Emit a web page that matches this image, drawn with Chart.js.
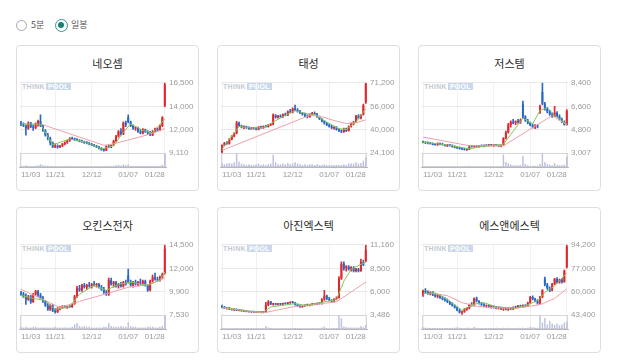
<!DOCTYPE html>
<html><head><meta charset="utf-8">
<script src="https://cdn.jsdelivr.net/npm/chart.js@4.4.1/dist/chart.umd.min.js"></script>
<style>
body{margin:0;background:#fff;width:618px;height:362px;overflow:hidden;position:relative;font-family:'Noto Sans CJK KR','Noto Sans',sans-serif}
.rb{position:absolute;box-sizing:border-box;border-radius:50%}
.rl{position:absolute;font-size:9px;color:#555;line-height:12px}
.card{position:absolute;width:183px;height:146px;border:1px solid #dedede;border-radius:4px;box-sizing:border-box;background:#fff}
.title{position:absolute;top:9px;left:0;width:100%;text-align:center;font-size:11px;color:#2a2a2a;line-height:16px}
.card canvas{position:absolute;left:1px;top:29px}
.wm{position:absolute;left:5px;top:37px;height:8px;font:bold 7px 'Liberation Sans',sans-serif;line-height:8px;letter-spacing:0.3px;white-space:nowrap}
.wm .t{color:#c3c9d0}
.wm .p{background:#c9d8ea;color:#fff;padding:0 2px;margin-left:1px}
</style></head><body>
<div class="rb" style="left:16px;top:20px;width:11px;height:11px;border:1px solid #a8a8a8"></div>
<span class="rl" style="left:31px;top:19px">5분</span>
<div class="rb" style="left:55px;top:19px;width:13px;height:13px;border:1.5px solid #2d9c8c;background:#fff"><div class="rb" style="left:2px;top:2px;width:6px;height:6px;background:#17826f"></div></div>
<span class="rl" style="left:71px;top:19px">일봉</span>
<div id="wrap"></div>
<script>
const dates=['11/03','11/04','11/05','11/06','11/07','11/10','11/11','11/12','11/13','11/14','11/17','11/18','11/19','11/20','11/21','11/24','11/25','11/26','11/27','11/28','12/01','12/02','12/03','12/04','12/05','12/08','12/09','12/10','12/11','12/12','12/15','12/16','12/17','12/18','12/19','12/22','12/23','12/24','12/26','12/29','12/30','01/02','01/05','01/06','01/07','01/08','01/09','01/12','01/13','01/14','01/15','01/16','01/19','01/20','01/21','01/22','01/23','01/26','01/27','01/28'];
const xTickLabels=['11/03','11/21','12/12','01/07','01/28'];
const names=['네오셈','태성','저스템','오킨스전자','아진엑스텍','에스앤에스텍'];

const neoAxis=['16,500','14,000','12,000','9,110'];
const neoOpen=[12300,12150,12000,11700,12300,11900,11800,12200,12500,12000,11500,11000,10700,10200,9800,9900,9750,9900,10100,10250,10450,10700,10600,10550,10450,10350,10300,10200,10150,10050,9950,9850,9750,9600,9450,9400,9850,9750,9950,10400,10900,11400,11100,12300,12900,12400,12000,11700,11800,11400,11200,11600,11350,11200,11000,11400,11700,11500,12000,14100];
const neoHigh=[12450,12300,12100,12400,12350,12100,12300,12600,13130,12100,11600,11200,10800,10300,10100,10000,9950,10150,10300,10500,10750,10800,10700,10650,10550,10500,10400,10350,10250,10150,10050,9950,9850,9700,9600,9900,9950,10000,10500,11000,11500,11700,12400,12500,13130,12500,12100,11900,11850,11600,11700,11650,11500,11400,11500,11750,11800,12100,12950,16500];
const neoLow=[12000,11900,11000,11600,11800,11500,11700,11950,11900,11400,10900,10500,10000,9700,9700,9650,9700,9800,10000,10150,10350,10550,10450,10400,10300,10250,10150,10100,10000,9900,9800,9700,9550,9400,9320,9380,9700,9700,9900,10300,10800,11000,11050,11900,12300,11900,11600,11500,11300,11150,11150,11300,11100,10950,10950,11300,11400,11450,11900,14000];
const neoClose=[12150,12000,11700,12300,11900,11800,12200,12500,12000,11500,11000,10700,10200,9800,9900,9750,9900,10100,10250,10450,10700,10600,10550,10450,10350,10300,10200,10150,10050,9950,9850,9750,9600,9450,9400,9850,9750,9950,10400,10900,11400,11100,12300,12100,12400,12000,11700,11800,11400,11200,11600,11350,11200,11000,11400,11700,11500,12000,12850,16300];
const neoVol=[3,2,4,3,2,2,3,4,6,4,3,3,2,2,2,1,1,2,2,2,3,1,1,1,1,1,1,1,1,1,1,1,1,1,2,3,2,2,3,4,5,3,6,4,6,3,2,2,2,2,2,2,2,2,2,2,2,3,5,30];
const neoShort=[[0,12200],[8,12150],[13,10000],[20,10600],[26,10300],[33,9550],[38,9900],[42,11300],[45,12200],[50,11500],[54,11250],[59,12700]];
const neoLong=[[9,12100],[34,9950],[38,10100],[52,11050],[59,11700]];

const taeAxis=['71,200','56,000','40,000','24,100'];
const taeOpen=[25000,29500,31000,30500,33500,35500,37500,44500,42500,41500,42000,41000,40500,41200,40600,40000,41800,41000,42200,41800,43200,43500,49500,48000,49200,48300,50200,49500,52000,51500,54000,53000,52000,51000,50000,49000,48300,50000,51000,50200,48500,47000,45500,44000,43000,42000,41000,41500,40000,39000,38500,40500,39000,42000,44000,45000,49000,47500,50000,58000];
const taeHigh=[29800,31500,32000,34000,36000,38000,45500,45000,43000,42500,42300,41800,41500,41500,41200,42000,42200,42500,42800,43500,44000,50500,50000,49500,49800,50500,51000,52500,53500,54500,56300,54000,52800,51500,51000,49800,50500,51500,51800,50800,49000,47500,46000,44800,43800,42800,42000,42000,40800,40000,41000,41000,42500,44500,45500,49500,50000,50000,57000,71200];
const taeLow=[24100,29000,30000,30200,33000,35000,37000,42000,41000,40500,40800,40000,40000,40300,39800,39800,40800,40800,41500,41500,42500,43000,47500,47500,48000,48000,49000,49200,51000,51000,52500,51500,50500,49500,48500,47800,48000,49500,49800,48000,46500,45000,43500,42500,41500,40500,40000,39500,38500,37800,38000,38500,38800,41500,43000,44500,47000,47000,49500,57500];
const taeClose=[29500,31000,30500,33500,35500,37500,44500,42500,41500,42000,41000,40500,41200,40600,40000,41800,41000,42200,41800,43200,43500,49500,48000,49200,48300,50200,49500,52000,51500,54000,53000,52000,51000,50000,49000,48300,50000,51000,50200,48500,47000,45500,44000,43000,42000,41000,41500,40000,39000,38500,40500,39000,42000,44000,45000,49000,47500,49500,56000,70500];
const taeVol=[6,4,5,6,5,7,20,8,5,4,3,4,3,3,4,5,3,4,3,4,5,18,7,4,4,5,4,6,4,5,7,5,4,3,4,3,4,4,3,4,3,3,4,3,3,3,3,3,3,3,4,3,5,5,5,7,5,6,9,14];
const taeShort=[[0,27000],[7,42000],[12,41000],[17,41200],[21,45000],[26,49500],[30,52500],[35,50500],[38,50000],[43,45000],[48,40500],[51,40000],[55,45000],[59,54000]];
const taeLong=[[0,26000],[36,49500],[41,48500],[46,46000],[51,44000],[55,44500],[59,46500]];

const jusAxis=['8,400','6,600','4,800','3,007'];
const jusOpen=[3900,3850,3800,3780,3720,3680,3650,3750,3700,3650,3600,3650,3580,3500,3450,3400,3350,3300,3280,3300,3550,3520,3560,3530,3580,3550,3620,3580,3650,3600,3640,3600,3560,3620,4150,4600,5200,5400,5350,5450,5400,6800,5800,5500,5300,5150,5000,5100,6100,7700,6800,6400,6200,6000,5850,6100,5850,5600,5400,5200];
const jusHigh=[3950,3900,3880,3850,3800,3750,3800,3800,3780,3700,3700,3700,3650,3580,3520,3480,3420,3380,3350,3600,3620,3600,3620,3600,3650,3650,3680,3700,3700,3680,3700,3660,3650,4200,4700,5300,5500,5600,5500,5600,5650,7000,5900,5600,5400,5250,5200,5200,6700,8400,6900,6500,6300,6100,6600,6200,5950,5700,5500,6350];
const jusLow=[3800,3750,3720,3700,3650,3620,3600,3650,3620,3550,3520,3550,3480,3420,3380,3320,3280,3240,3220,3280,3480,3460,3500,3480,3520,3500,3560,3550,3580,3540,3580,3520,3500,3600,4100,4550,5000,5250,5200,5300,5300,5650,5450,5250,5100,4950,4900,4950,6050,6700,6300,6100,5900,5750,5800,5800,5550,5350,5150,5150];
const jusClose=[3850,3800,3780,3720,3680,3650,3750,3700,3650,3600,3650,3580,3500,3450,3400,3350,3300,3280,3300,3550,3520,3560,3530,3580,3550,3620,3580,3650,3600,3640,3600,3560,3620,4150,4600,5200,5400,5350,5450,5400,5550,5800,5500,5300,5150,5000,5100,5050,6600,6800,6400,6200,6000,5850,6100,5850,5600,5400,5200,6250];
const jusVol=[1,1,1,1,1,1,1,1,1,1,1,1,1,1,1,1,1,1,1,2,1,1,1,1,1,1,1,1,1,1,1,1,1,20,8,6,4,3,3,3,3,18,5,3,2,2,2,2,5,22,8,5,4,3,6,3,3,3,4,16];
const jusShort=[[0,3850],[10,3650],[19,3350],[25,3550],[33,3700],[41,5690],[45,5265],[48,6270],[51,6520],[54,5890],[59,5265]];
const jusLong=[[0,4250],[19,3585],[33,3585],[53,5890],[59,5190]];

const okiAxis=['14,500','12,000','9,900','7,530'];
const okiOpen=[9700,9600,9400,9100,9400,8850,9600,9900,9500,9200,8900,8500,8100,8500,8000,7850,8200,8300,8400,8300,8400,8350,8650,9400,10200,10000,10500,10300,10500,10400,10600,10500,10600,10300,10100,9800,9600,11000,10600,10800,10400,10600,10400,10800,11500,10800,10500,10800,10600,10800,10700,10900,10500,10000,10900,11300,11100,11000,11300,11700];
const okiHigh=[9900,9800,9650,9500,9500,9700,10000,10000,9700,9400,9000,8700,8600,8600,8200,8300,8400,8500,8500,8450,8500,8700,9500,10400,10500,10600,10700,10600,10800,10700,10900,10700,10700,10500,10300,10000,11200,11200,10900,10900,10700,10800,10900,11000,12100,11000,10900,11000,10900,11100,11000,11000,10600,11000,11500,11700,11300,11400,11700,14500];
const okiLow=[9500,9300,8600,9000,8700,8800,9500,9400,9100,8800,8400,8000,8000,7900,7750,7800,8050,8200,8250,8200,8300,8300,8600,9300,9900,9900,10200,10100,10300,10200,10400,10300,10200,10000,9700,9500,9500,10500,10300,10300,10200,10300,10300,10500,10700,10400,10300,10500,10400,10500,10500,10400,9900,9950,10800,11000,10900,10900,11200,11600];
const okiClose=[9600,9400,9100,9400,8850,9600,9900,9500,9200,8900,8500,8100,8500,8000,7850,8200,8300,8400,8300,8400,8350,8650,9400,10200,10000,10500,10300,10500,10400,10600,10500,10600,10300,10100,9800,9600,11000,10600,10800,10400,10600,10400,10800,10700,10800,10500,10800,10600,10800,10700,10900,10500,10000,10900,11300,11100,11000,11300,11600,14100];
const okiVol=[3,2,3,2,2,3,3,2,2,2,2,2,2,2,3,2,2,2,2,2,2,3,6,8,4,3,4,3,3,2,2,2,2,2,3,3,8,4,3,3,3,4,3,3,9,4,3,3,2,2,2,2,3,3,3,2,2,3,4,18];
const okiShort=[[0,9500],[5,9200],[10,9000],[14,8100],[20,8400],[24,9600],[30,10500],[35,10000],[40,10600],[45,10800],[52,10500],[57,11000],[59,11800]];
const okiLong=[[0,10100],[16,8300],[24,8900],[37,9800],[44,10300],[53,10600],[59,11200]];

const ajiAxis=['11,160','8,500','6,000','3,486'];
const ajiOpen=[4500,4400,4250,4300,4150,4100,4150,4020,4050,3950,3980,3900,3850,3900,3830,3850,3800,3850,3820,4600,4950,4700,4750,4650,4720,4700,4780,4750,4850,4900,4850,4650,4500,4400,4500,4600,4550,4650,4700,4680,4800,4750,5200,5600,5300,5100,5000,5250,5400,7500,9100,8600,8800,8500,8700,8300,8500,8300,9300,9400];
const ajiHigh=[4600,4450,4350,4350,4250,4200,4200,4100,4100,4050,4030,3950,3950,3950,3900,3900,3880,3900,4900,5100,5000,4800,4800,4780,4800,4820,4850,4900,4950,5000,4900,4700,4600,4550,4650,4700,4700,4750,4800,4850,4900,5300,6200,5700,5450,5200,5300,5500,7700,9300,9300,8900,8900,8800,8800,8600,8600,9600,9500,11160];
const ajiLow=[4300,4200,4150,4100,4050,4000,3980,3950,3900,3880,3850,3820,3800,3800,3760,3780,3750,3780,3800,4500,4650,4600,4620,4600,4650,4650,4700,4700,4780,4800,4600,4450,4350,4350,4450,4500,4500,4580,4620,4650,4700,4700,5100,5200,5050,4950,4950,5150,5350,7400,8400,8300,8400,8300,8200,8200,8200,8250,8900,9300];
const ajiClose=[4400,4250,4300,4150,4100,4150,4020,4050,3950,3980,3900,3850,3900,3830,3850,3800,3850,3820,4600,4950,4700,4750,4650,4720,4700,4780,4750,4850,4900,4850,4650,4500,4400,4500,4600,4550,4650,4700,4680,4800,4750,5200,5600,5300,5100,5000,5250,5400,7500,9100,8600,8800,8500,8700,8300,8500,8300,9300,9000,10600];
const ajiVol=[2,1,1,1,1,1,1,1,1,1,1,1,1,1,1,1,1,1,6,3,2,1,1,1,1,1,1,1,1,1,2,1,1,1,1,1,1,1,1,1,1,3,5,2,1,1,2,2,28,22,5,4,3,3,3,3,3,6,4,8];
const ajiShort=[[0,4400],[10,3950],[17,3830],[20,4400],[30,4750],[35,4550],[41,4900],[47,5200],[50,7200],[53,8500],[59,9300]];
const ajiLong=[[0,4300],[17,3750],[29,4400],[47,4950],[59,7100]];

const snsAxis=['94,200','77,000','60,000','43,400'];
const snsOpen=[58000,61000,60000,59000,60000,58000,57000,58000,56000,55000,54000,53000,51500,50500,49000,47000,45500,46000,48000,48500,51000,50500,55500,53500,52000,51000,50000,50500,49500,49800,49000,48500,49000,47800,48200,47500,48300,47800,49200,49000,50200,49500,50800,50000,52500,56500,55000,53500,52000,56500,69500,65500,63000,61500,66000,69500,67000,69000,67500,78000];
const snsHigh=[61500,62700,61000,60500,60500,59000,58500,58500,56800,56000,55000,53500,52500,51000,49500,47800,46500,48500,49000,51500,52500,56000,56500,54000,52800,51800,51000,51000,50500,50200,49800,49500,49300,48500,48800,48500,49000,49500,50000,50500,50800,51000,51200,53000,57000,57500,55800,54500,57000,62000,71000,66500,64000,66500,70000,70500,69500,70000,76000,94200];
const snsLow=[57000,59500,58500,58000,57500,56500,56000,55500,54500,53500,52500,51000,50000,48500,46500,45000,44100,45500,47000,48000,50000,50000,53000,51500,50500,49500,49000,49000,48500,48500,48000,47800,47500,47000,47200,47000,47500,47500,48500,48800,49000,49200,49500,49800,52000,54500,53000,51500,51500,56000,64500,62000,60500,61000,65500,66500,66500,66500,67000,77500];
const snsClose=[61000,60000,59000,60000,58000,57000,58000,56000,55000,54000,53000,51500,50500,49000,47000,45500,46000,48000,48500,51000,50500,55500,53500,52000,51000,50000,50500,49500,49800,49000,48500,49000,47800,48200,47500,48300,47800,49200,49000,50200,49500,50800,50000,52500,56500,55000,53500,52000,56500,61500,65500,63000,61500,66000,69500,67000,69000,67500,75500,93000];
const snsVol=[4,3,3,2,2,2,3,2,2,2,2,2,3,3,4,3,2,2,3,3,2,5,3,2,2,2,2,2,2,2,3,2,2,3,2,3,2,2,2,3,2,3,2,3,5,4,3,3,30,14,24,10,18,12,9,12,8,10,14,16];
const snsShort=[[0,59000],[5,59500],[10,55000],[16,47000],[21,51500],[25,52500],[30,49500],[38,48500],[44,51500],[48,55500],[50,60000],[54,64500],[59,74000]];
const snsLong=[[3,59500],[10,57500],[16,52500],[22,50000],[30,48700],[38,48500],[48,51000],[54,55500],[59,62500]];

const charts=[
 {ax:neoAxis,o:neoOpen,h:neoHigh,l:neoLow,c:neoClose,v:neoVol,s:neoShort,g:neoLong},
 {ax:taeAxis,o:taeOpen,h:taeHigh,l:taeLow,c:taeClose,v:taeVol,s:taeShort,g:taeLong},
 {ax:jusAxis,o:jusOpen,h:jusHigh,l:jusLow,c:jusClose,v:jusVol,s:jusShort,g:jusLong},
 {ax:okiAxis,o:okiOpen,h:okiHigh,l:okiLow,c:okiClose,v:okiVol,s:okiShort,g:okiLong},
 {ax:ajiAxis,o:ajiOpen,h:ajiHigh,l:ajiLow,c:ajiClose,v:ajiVol,s:ajiShort,g:ajiLong},
 {ax:snsAxis,o:snsOpen,h:snsHigh,l:snsLow,c:snsClose,v:snsVol,s:snsShort,g:snsLong}
];
const cardX=[16,217,418], cardY=[45,207];
const RED='#e1262f', BLUE='#2a68c6', FONT={family:"'Liberation Sans', Arial, sans-serif",size:8};
const volBox={id:'volBox',beforeDatasetsDraw(ch){const a=ch.chartArea,s=ch.scales.y2,c=ch.ctx;c.save();c.strokeStyle='#d6d6d6';c.lineWidth=1;c.strokeRect(Math.round(a.left)+0.5,Math.round(s.top)+0.5,Math.round(a.right-a.left)-1,Math.round(s.bottom-s.top)-1);c.restore();}};
const num=s=>Number(s.replace(/,/g,''));
charts.forEach((d,k)=>{
  const card=document.createElement('div');card.className='card';
  card.style.left=cardX[k%3]+'px';card.style.top=cardY[Math.floor(k/3)]+'px';
  card.innerHTML='<div class="title">'+names[k]+'</div><div class="wm"><span class="t">THINK</span><span class="p">POOL</span></div>';
  const cv=document.createElement('canvas');cv.width=180;cv.height=110;cv.style.width='180px';cv.style.height='110px';
  card.appendChild(cv);document.getElementById('wrap').appendChild(card);
  const col=ctx=>d.c[ctx.dataIndex]>=d.o[ctx.dataIndex]?RED:BLUE;
  const yMax=num(d.ax[0]), yMin=num(d.ax[d.ax.length-1]);
  const axAsc=d.ax.slice().reverse();
  const vMax=Math.max(...d.v);
  new Chart(cv,{
    type:'bar',
    data:{labels:dates,datasets:[
      {type:'line',data:d.s.map(p=>({x:dates[p[0]],y:p[1]})),borderColor:'#86c55a',borderWidth:1,pointRadius:0,yAxisID:'y',order:1},
      {type:'line',data:d.g.map(p=>({x:dates[p[0]],y:p[1]})),borderColor:'#f0a0a8',borderWidth:1,pointRadius:0,yAxisID:'y',order:1},
      {data:d.l.map((v,i)=>[v,d.h[i]]),backgroundColor:col,barThickness:1,grouped:false,yAxisID:'y',order:3},
      {data:d.o.map((v,i)=>[v,d.c[i]]),backgroundColor:col,barPercentage:0.82,categoryPercentage:1,grouped:false,minBarLength:1,yAxisID:'y',order:2},
      {data:d.v,backgroundColor:'#bcc1e0',barPercentage:0.6,categoryPercentage:1,grouped:false,yAxisID:'y2',order:4}
    ]},
    options:{responsive:false,animation:false,events:[],
      layout:{padding:{top:7,left:1,right:0,bottom:0}},
      plugins:{legend:{display:false},tooltip:{enabled:false}},
      scales:{
        x:{offset:true,grid:{color:'#f1f1f1',drawTicks:false,offset:false},border:{color:'#b8b8b8'},
           ticks:{autoSkip:false,maxRotation:0,align:'inner',padding:3,color:'#9a9a9a',font:FONT},
           afterBuildTicks:s=>{s.ticks=s.ticks.filter(t=>xTickLabels.includes(dates[t.value]));},
           afterFit:s=>{s.height=18;}},
        y:{position:'right',stack:'p',stackWeight:72,min:yMin,max:yMax,
           grid:{color:'#e9e9e9',drawTicks:false},border:{display:false},
           ticks:{padding:3,color:'#9a9a9a',font:FONT,callback:(v,i)=>axAsc[i]},
           afterBuildTicks:s=>{s.ticks=[0,1,2,3].map(j=>({value:yMin+(yMax-yMin)*j/3}));},
           afterFit:s=>{s.width=32;}},
        y2:{position:'right',stack:'p',stackWeight:14,min:0,max:vMax,
           grid:{display:false},border:{display:false},ticks:{display:false},
           afterFit:s=>{s.width=32;}}
      }
    },
    plugins:[volBox]
  });
});
</script>
</body></html>
